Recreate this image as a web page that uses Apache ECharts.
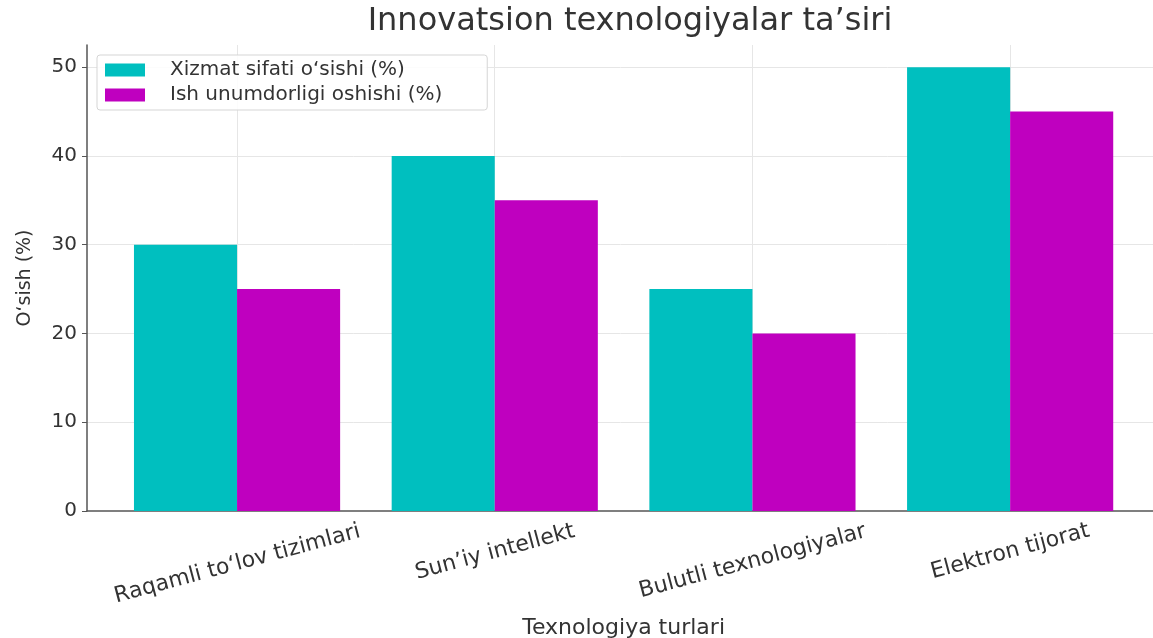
<!DOCTYPE html>
<html>
<head>
<meta charset="utf-8">
<script src="https://cdn.jsdelivr.net/npm/echarts@6/dist/echarts.min.js"></script>
<style>
html,body{margin:0;padding:0;background:#fff;}
#chart{width:1153px;height:638px;}
</style>
</head>
<body>
<div id="chart"></div>
<script>
const categories = ["Raqamli to‘lov tizimlari", "Sun’iy intellekt", "Bulutli texnologiyalar", "Elektron tijorat"];
const seriesNames = ["Xizmat sifati o‘sishi (%)", "Ish unumdorligi oshishi (%)"];
const serviceQuality = [30, 40, 25, 50];
const productivity = [25, 35, 20, 45];
const yTicks = [0, 10, 20, 30, 40, 50];

const FONT = "DejaVu Sans";
const LABEL_SIZE = 22;
const ROT = 15;

// measure label widths to emulate matplotlib's centered rotated labels
const cv = document.createElement('canvas').getContext('2d');
cv.font = LABEL_SIZE + 'px "' + FONT + '"';
const rich = {};
const sinR = Math.sin(ROT * Math.PI / 180);
categories.forEach(function (c, i) {
  const w = cv.measureText(c).width;
  const d = w * sinR / 2;
  rich['p' + i] = { height: Math.round(2 * d), lineHeight: Math.round(2 * d), fontSize: 1 };
  rich['t' + i] = { fontSize: LABEL_SIZE, color: '#333', fontFamily: FONT, lineHeight: 26,
                    padding: [0, Math.round(2 * d * sinR), 0, 0] };
});

const chart = echarts.init(document.getElementById('chart'));
const gridTop = 45, gridH = 466;
chart.setOption({
  animation: false,
  textStyle: { fontFamily: FONT },
  title: {
    text: "Innovatsion texnologiyalar ta’siri",
    left: 625, top: 1, textAlign: 'center',
    textStyle: { fontSize: 32, fontWeight: 'normal', color: '#333', fontFamily: FONT }
  },
  legend: {
    orient: 'vertical', left: 97, top: 55,
    padding: [5, 45, 5, 8],
    itemWidth: 40, itemHeight: 13, itemGap: 5,
    icon: 'rect',
    backgroundColor: 'rgba(255,255,255,0.85)',
    borderColor: '#d5d5d5', borderWidth: 1, borderRadius: 3,
    textStyle: { fontSize: 20, color: '#333', fontFamily: FONT, padding: [0, 0, 0, 20] },
    data: seriesNames
  },
  grid: [
    { left: 87, top: gridTop, width: 1075, height: gridH, outerBoundsMode: 'none' },
    { left: 108.2, top: gridTop, width: 1030.8, height: gridH, outerBoundsMode: 'none' }
  ],
  xAxis: [
    {
      gridIndex: 0, type: 'value', min: 0, max: 1,
      axisLine: { show: true, lineStyle: { color: '#555', width: 1.5 } },
      axisTick: { show: false }, axisLabel: { show: false }, splitLine: { show: false }
    },
    {
      gridIndex: 1, type: 'category', data: categories,
      axisLine: { show: false }, axisTick: { show: false },
      splitLine: { show: true, alignWithLabel: true, lineStyle: { color: '#e6e6e6', width: 1 } },
      axisLabel: {
        interval: 0, rotate: ROT, align: 'center', verticalAlign: 'middle',
        margin: 19, fontSize: LABEL_SIZE, color: '#333', fontFamily: FONT,
        formatter: function (v, i) { return '{p' + i + '| }\n{t' + i + '|' + v + '}'; },
        rich: rich
      },
      name: 'Texnologiya turlari', nameLocation: 'middle', nameGap: 106,
      nameTextStyle: { fontSize: 22, color: '#333', fontFamily: FONT }
    }
  ],
  yAxis: [
    {
      gridIndex: 0, type: 'value', min: 0, max: 52.5, interval: 10,
      axisLine: { show: true, lineStyle: { color: '#555', width: 1.5 } },
      axisTick: { show: true, length: 5, customValues: yTicks, lineStyle: { color: '#555' } },
      axisLabel: { customValues: yTicks, fontSize: 20, color: '#333', margin: 10, fontFamily: FONT },
      splitLine: { show: true, lineStyle: { color: ['rgba(0,0,0,0)', '#e6e6e6', '#e6e6e6', '#e6e6e6', '#e6e6e6', '#e6e6e6', 'rgba(0,0,0,0)'], width: 1 } },
      name: 'O‘sish (%)', nameLocation: 'middle', nameGap: 52,
      nameTextStyle: { fontSize: 19, color: '#333', fontFamily: FONT }
    },
    {
      gridIndex: 1, type: 'value', min: 0, max: 52.5, interval: 10, show: false,
      splitLine: { show: false }
    }
  ],
  series: [
    {
      name: seriesNames[0], type: 'bar', xAxisIndex: 1, yAxisIndex: 1,
      data: serviceQuality, barWidth: '40%', barGap: '0%',
      itemStyle: { color: '#00BFBF' }
    },
    {
      name: seriesNames[1], type: 'bar', xAxisIndex: 1, yAxisIndex: 1,
      data: productivity, barWidth: '40%', barGap: '0%',
      itemStyle: { color: '#BF00BF' }
    }
  ]
});
</script>
</body>
</html>
